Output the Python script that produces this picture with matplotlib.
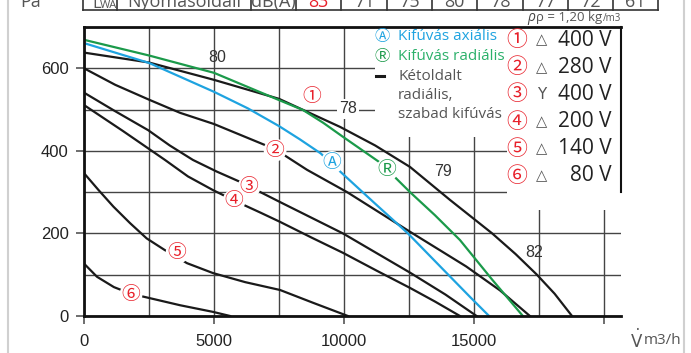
#%%
# imports
import numpy as np
import matplotlib
matplotlib.use("Agg")
import matplotlib.pyplot as plt
from matplotlib.lines import Line2D
from matplotlib.patches import Rectangle

#%%
# data (airflow m3/h, pressure Pa)
c1_x = [0, 2500, 5000, 7500, 9850, 11200, 12540, 14080, 15700, 16600, 17420, 18100, 18770]
c1_y = [638, 614, 572, 526, 458, 413, 361, 281, 200, 150, 100, 54, 0]
c2_x = [0, 1200, 2500, 3700, 5000, 7350, 8580, 10120, 12540, 14700, 16000, 17150]
c2_y = [600, 560, 524, 492, 465, 404, 354, 300, 204, 120, 62, 0]
c3_x = [0, 1200, 2470, 3300, 4190, 5100, 6000, 7540, 9960, 12540, 13900, 15100]
c3_y = [541, 496, 450, 413, 378, 350, 325, 276, 200, 105, 52, 0]
c4_x = [0, 1500, 3115, 4000, 4960, 5800, 6800, 7540, 8750, 9960, 11250, 12540, 13500, 14460]
c4_y = [511, 448, 378, 338, 305, 279, 250, 228, 190, 153, 110, 68, 35, 0]
c5_x = [0, 560, 1130, 1770, 2410, 3100, 3960, 4960, 6200, 7540, 8810, 10150]
c5_y = [346, 305, 265, 225, 188, 160, 128, 104, 82, 63, 32, 0]
c6_x = [0, 500, 1150, 1800, 2480, 3700, 4960, 5620]
c6_y = [127, 95, 70, 54, 44, 26, 10, 0]
axial_x = [0, 2500, 5000, 6300, 7500, 8300, 9100, 9920, 11200, 12460, 13700, 14850, 15580]
axial_y = [661, 613, 543, 503, 460, 428, 394, 346, 272, 200, 120, 46, 0]
radial_x = [0, 2500, 5000, 7500, 8420, 9200, 9960, 11400, 12540, 13500, 14460, 15700, 16880]
radial_y = [669, 631, 589, 523, 499, 468, 434, 371, 300, 244, 184, 88, 0]

speed_labels = ["①", "②", "③", "④", "⑤", "⑥"]
connection = ["△", "△", "Y", "△", "△", "△"]
voltages = ["400 V", "280 V", "400 V", "200 V", "140 V", "80 V"]

table_head = ["Nyomásoldali", "dB(A)"]
table_values = ["83", "71", "75", "80", "78", "77", "72", "61"]
noise_labels = ["80", "78", "79", "82"]

#%%
# constants
W, H = 691, 353
BLACK = "#1a1a1a"
BLUE = "#1ea3e0"
GREEN = "#1b9a4a"
RED = "#e8202a"
GRAY = "#555555"
CJK = ["Noto Sans CJK JP", "DejaVu Sans"]
SANS = ["Open Sans", "DejaVu Sans"]

def fx(px):
    return px / W

def fy(py):
    return 1 - py / H

def dx(px):
    return (px - 84) * 2500 / 65

def dy(py):
    return (316 - py) * 200 / 82.5

#%%
fig = plt.figure(figsize=(W / 100, H / 100), dpi=100)
ax = fig.add_axes([fx(84), 1 - 316 / H, (620.5 - 84) / W, (316 - 27) / H])
xmax = dx(620.5)
ax.set_xlim(0, xmax)
ax.set_ylim(0, 700)

# grid
ax.set_xticks([0, 5000, 10000, 15000, 20000], ["0", "5000", "10000", "15000", ""])
ax.set_xticks(np.arange(0, 20001, 2500), minor=True)
ax.set_yticks([0, 200, 400, 600], ["0", "200", "400", "600"])
ax.set_yticks(np.arange(0, 701, 100), minor=True)
ax.grid(which="both", color="#444444", lw=1.0, zorder=0.5)
ax.set_axisbelow(True)
ax.tick_params(which="major", direction="out", length=6, width=1.2, color="#555555",
               labelsize=12, labelcolor="#222222")
ax.tick_params(axis="x", which="major", pad=7)
ax.tick_params(axis="y", which="major", pad=5)
ax.tick_params(which="minor", length=0)
for lab in ax.get_xticklabels() + ax.get_yticklabels():
    lab.set_family(["Liberation Sans", "DejaVu Sans"])

for side in ["left", "bottom", "top"]:
    ax.spines[side].set_linewidth(2)
    ax.spines[side].set_color("#111111")
ax.spines["right"].set_visible(False)
ax.plot([xmax, xmax], [300, 700], color="#111111", lw=1.5, clip_on=False, zorder=3)

# white legend areas hide the grid
ax.add_patch(Rectangle((dx(375), dy(137)), dx(507) - dx(375), 700 - dy(137),
                       facecolor="white", edgecolor="none", zorder=1))
ax.add_patch(Rectangle((dx(507), dy(210)), xmax - dx(507), 700 - dy(210),
                       facecolor="white", edgecolor="none", zorder=1))

# curves
for xs, ys in [(c1_x, c1_y), (c2_x, c2_y), (c3_x, c3_y), (c4_x, c4_y), (c5_x, c5_y), (c6_x, c6_y)]:
    ax.plot(xs, ys, color=BLACK, lw=1.6, zorder=2, solid_joinstyle="round")
ax.plot(axial_x, axial_y, color=BLUE, lw=1.6, zorder=2.1, solid_joinstyle="round")
ax.plot(radial_x, radial_y, color=GREEN, lw=1.6, zorder=2.1, solid_joinstyle="round")

# curve labels
lab_pos = [(8770, 531), (7350, 402), (6350, 313), (5770, 279), (3580, 153), (1810, 53)]
for s, (x, y) in zip(speed_labels, lab_pos):
    ax.text(x, y, s, color=RED, fontsize=13.5, family=CJK, ha="center", va="center", zorder=4,
            bbox=dict(boxstyle="circle,pad=0.05", fc="white", ec="none"))
ax.text(9540, 372, "Ⓐ", color=BLUE, fontsize=13.5, family=CJK, ha="center", va="center", zorder=4,
        bbox=dict(boxstyle="circle,pad=0.05", fc="white", ec="none"))
ax.text(11650, 354, "Ⓡ", color=GREEN, fontsize=13.5, family=CJK, ha="center", va="center", zorder=4,
        bbox=dict(boxstyle="circle,pad=0.05", fc="white", ec="none"))

# noise level labels
noise_pos = [(5120, 625), (10150, 502), (13800, 351), (17300, 155)]
for s, (x, y) in zip(noise_labels, noise_pos):
    ax.text(x, y, s, color="#333333", fontsize=11.5, family=["Liberation Sans", "DejaVu Sans"],
            ha="center", va="center", zorder=4,
            bbox=dict(boxstyle="square,pad=0.15", fc="white", ec="none") if s == "78" else None)

# legend (left block)
fig.text(fx(382), fy(37), "Ⓐ", color=BLUE, fontsize=11, family=CJK, ha="center", va="center")
fig.text(fx(398), fy(37), "Kifúvás axiális", color=BLUE, fontsize=11, family=SANS, va="center")
fig.text(fx(382), fy(56), "Ⓡ", color=GREEN, fontsize=11, family=CJK, ha="center", va="center")
fig.text(fx(398), fy(56), "Kifúvás radiális", color="#2bb06a", fontsize=11, family=SANS, va="center")
fig.add_artist(Line2D([fx(376), fx(384)], [fy(76), fy(76)], color=BLACK, lw=2.2))
for i, s in enumerate(["Kétoldalt", "radiális,", "szabad kifúvás"]):
    fig.text(fx(398), fy(76 + 19.5 * i), s, color=GRAY, fontsize=11, family=SANS, va="center")

# legend (right block)
for i in range(6):
    yy = fy(40 + 27.2 * i)
    fig.text(fx(517), yy, speed_labels[i], color=RED, fontsize=15, family=CJK, ha="center", va="center")
    fig.text(fx(542), yy, connection[i], color=GRAY, fontsize=10.5 if connection[i] == "△" else 11,
             family=["DejaVu Sans"], ha="center", va="center")
    fig.text(fx(612), yy, voltages[i], color="#222222", fontsize=15, family=SANS, ha="right", va="center")

# axis unit label
fig.text(fx(630), fy(340), r"$\dot{\mathrm{V}}$", color=GRAY, fontsize=12, va="center")
fig.text(fx(644), fy(340), "m3/h", color=GRAY, fontsize=11, family=SANS, va="center")

# density note
fig.text(fx(527), fy(21), "ρ", color="#444444", fontsize=10, style="italic", va="baseline", family=SANS)
fig.text(fx(602), fy(21), "ρ = 1,20 kg", color=GRAY, fontsize=9.5, ha="right", va="baseline", family=SANS)
fig.text(fx(603), fy(21), "/m3", color=GRAY, fontsize=7, va="baseline", family=SANS)

# table row cut at the top
fig.text(fx(31), fy(7), "Pa", color=GRAY, fontsize=13, ha="center", va="baseline", family=SANS)
edges = [83, 117, 251, 296, 341, 387, 432, 477, 523, 568, 613, 658]
fig.add_artist(Line2D([fx(83), fx(658)], [fy(10), fy(10)], color="#333333", lw=1.2))
for e in edges:
    fig.add_artist(Line2D([fx(e), fx(e)], [fy(10), 1.0], color="#333333", lw=1.2))
fig.text(fx(92), fy(8), "L", color=GRAY, fontsize=12, va="baseline", family=SANS)
fig.text(fx(100), fy(8), "WA", color=GRAY, fontsize=8, va="baseline", family=SANS)
fig.text(fx(184), fy(7), table_head[0], color=GRAY, fontsize=13, ha="center", va="baseline", family=SANS)
fig.text(fx(273.5), fy(7), table_head[1], color=GRAY, fontsize=13, ha="center", va="baseline", family=SANS)
for i, v in enumerate(table_values):
    cx = (edges[3 + i] + edges[4 + i]) / 2
    fig.text(fx(cx), fy(7), v, color=RED if i == 0 else GRAY, fontsize=13, ha="center",
             va="baseline", family=SANS)

# page borders
for px in [8, 684]:
    fig.add_artist(Line2D([fx(px), fx(px)], [0, 1], color="#d0d0d0", lw=1.5))

fig.savefig("out.png", dpi=100)
